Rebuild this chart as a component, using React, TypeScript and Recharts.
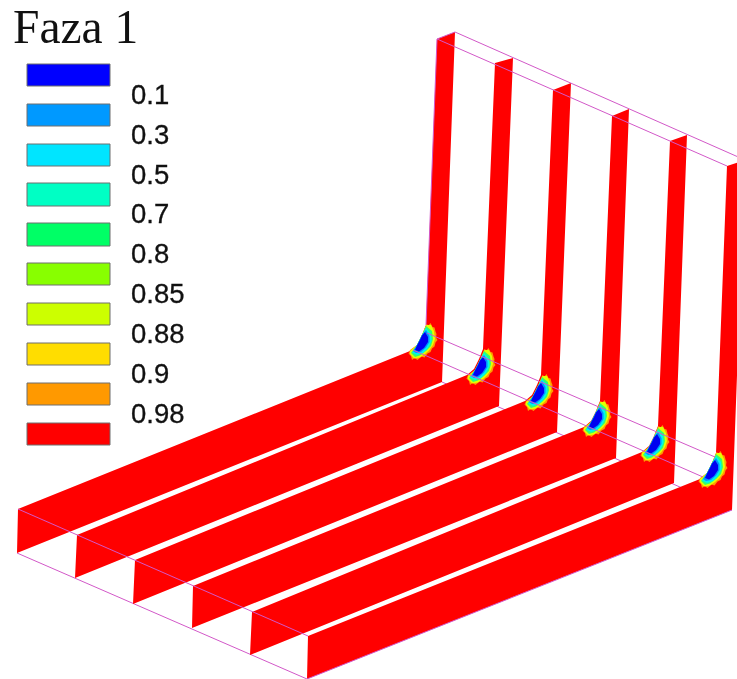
import React from 'react';
import { ScatterChart, Scatter, XAxis, YAxis } from 'recharts';

type Pt = [number, number];

// legend
const legendColors = ['#0000ff', '#0099ff', '#00e5ff', '#00ffc4', '#00ff66', '#88ff00', '#ccff00', '#ffdd00', '#ff9900', '#ff0000'];
const legendTops = [64, 104, 144, 183, 223, 263, 303, 343, 383, 423];
const legendBottoms = [86, 126, 166, 206, 246, 285, 325, 365, 405, 445];
const legendLabels = ['0.1', '0.3', '0.5', '0.7', '0.8', '0.85', '0.88', '0.9', '0.98'];
const labelBaselines = [104, 144, 184, 223, 263, 303, 343, 383, 423];

// corners of the six plates
const frontTop: Pt[] = [[18, 509], [77, 535], [135, 560], [193, 586], [252, 612], [308, 636]];
const frontBottom: Pt[] = [[17, 553], [75, 578], [133, 604], [192, 628], [250, 655], [307, 679]];
const bend: Pt[] = [[442, 382], [499, 406], [557, 432], [616, 458], [674, 483], [732, 510]];
const topFront: Pt[] = [[437, 39], [495, 63], [553, 90], [612, 116], [670, 141], [727, 166]];
const topBack: Pt[] = [[455, 32], [513, 58], [571, 83], [629, 109], [687, 135], [745, 160]];
const fillets: Pt[][] = [
  [[410, 351], [417, 345], [422, 335], [426, 325]],
  [[467, 375], [474, 369], [479, 359], [483, 349]],
  [[525, 401], [532, 395], [537, 385], [541, 375]],
  [[584, 427], [591, 421], [596, 411], [600, 401]],
  [[642, 452], [649, 446], [654, 436], [658, 426]],
  [[700, 479], [707, 473], [712, 463], [716, 453]],
];

// phase contour rings around the weld corner, outermost first
const blobAnchors: Pt[] = [[417, 345], [475, 370], [533, 396], [591, 422], [649, 447], [707, 473]];
const ringColors = ['#ff9a00', '#e4ff00', '#30ff70', '#00f4f0', '#0090ff', '#0000f0'];
const rings: Pt[][] = [
  [[9.5, -21], [11.5, -19.5], [13.5, -22], [15.5, -18], [17.5, -17.5], [18.5, -13.5], [19.5, -11], [19, -7.5], [20.5, -5], [18.5, -2.5], [17.5, 1.5], [15, 3.5], [13.5, 7], [10.5, 8.5], [7.5, 12.5], [4.5, 11.5], [0.5, 15], [-2.5, 13], [-5, 15], [-6, 11], [-8.5, 8.5], [-7, 5], [0, 0], [5, -10], [9, -20]],
  [[9.5, -20], [14, -20], [17, -14], [18, -6], [16, 0], [12, 5.5], [8, 9], [3, 12.5], [-3, 13.5], [-7, 9], [-7, 6], [0, 0], [5, -10]],
  [[9, -19], [15, -14], [16, -6], [14, 1], [9, 6], [3, 10.5], [-2, 12], [-6, 8], [0, 0], [5, -10]],
  [[9, -17], [14, -11], [14.5, -4], [11, 3], [6, 8], [0, 10], [-5, 7.5], [0, 0], [5, -10]],
  [[9, -15], [12.5, -9], [12.5, -3], [9, 2.5], [4, 7], [-1, 8], [-4, 6], [0, 0], [5, -10]],
  [[8, -13], [11, -8], [11, -3], [7, 3], [2, 6.5], [-2, 5], [0, 0.5], [3, -5], [5, -9.5]],
];

// mesh lines
const cornerUpper: Pt[] = [[427, 333], [715, 457]];
const cornerLower: Pt[] = [[413, 350], [703, 477]];

const RED = '#ff0000';
const MESH = '#d258c8';
const W = 737;
const H = 679;

const toData = (pts: Pt[]) => pts.map(([x, y]) => ({ x, y }));
const noDot = () => <g />;

// closed filled shape out of the scaled points of a series
const fillShape = (fill: string, stroke = 'none') => (props: any) => (
  <polygon
    points={props.points.map((p: any) => `${p.x},${p.y}`).join(' ')}
    fill={fill}
    stroke={stroke}
    strokeWidth={stroke === 'none' ? 0 : 1}
  />
);

const textDot = (fontFamily: string, fontSize: number, weight: number) => (props: any) => (
  <text
    x={props.cx}
    y={props.cy}
    fontFamily={fontFamily}
    fontSize={fontSize}
    fill="#111"
    stroke="#111"
    strokeWidth={weight}
  >
    {props.payload.label}
  </text>
);

const Poly = (key: string, pts: Pt[], fill: string, stroke?: string) => (
  <Scatter
    key={key}
    data={toData(pts)}
    line={fillShape(fill, stroke)}
    shape={noDot}
    isAnimationActive={false}
  />
);

const Mesh = (key: string, pts: Pt[]) => (
  <Scatter
    key={key}
    data={toData(pts)}
    line={{ stroke: MESH, strokeWidth: 1 }}
    shape={noDot}
    isAnimationActive={false}
  />
);

const platePoints = (i: number): Pt[] => [
  frontTop[i],
  ...fillets[i],
  topFront[i],
  topBack[i],
  bend[i],
  frontBottom[i],
];

const labelData = legendLabels.map((label, i) => ({ x: 131, y: labelBaselines[i], label }));
const titleData = [{ x: 13, y: 43, label: 'Faza 1' }];

export default function App() {
  return (
    <div style={{ position: 'absolute', left: 0, top: 0, width: W, height: H, background: '#fff', filter: 'blur(0.4px)' }}>
      <ScatterChart width={W} height={H} margin={{ top: 0, right: 0, bottom: 0, left: 0 }}>
        <XAxis type="number" dataKey="x" domain={[0, W]} allowDataOverflow hide />
        <YAxis type="number" dataKey="y" domain={[0, H]} reversed allowDataOverflow hide />

        {/* lines under the plates */}
        {Mesh('bendLine', [bend[0], bend[5]])}
        {Mesh('backLine', [frontBottom[0], frontBottom[5]])}

        {/* plates */}
        {frontTop.map((_, i) => Poly(`plate-${i}`, platePoints(i), RED))}

        {/* contour rings */}
        {blobAnchors.map(([ax, ay], b) =>
          rings.map((ring, r) =>
            Poly(`ring-${b}-${r}`, ring.map(([dx, dy]): Pt => [ax + dx, ay + dy]), ringColors[r]),
          ),
        )}

        {/* mesh outline */}
        {Mesh('frontTopLine', [frontTop[0], frontTop[5]])}
        {Mesh('topFrontLine', [topFront[0], topFront[5]])}
        {Mesh('topBackLine', [topBack[0], topBack[5]])}
        {Mesh('cornerUpper', cornerUpper)}
        {Mesh('cornerLower', cornerLower)}
        {Mesh('outerEdge', [frontBottom[5], bend[5]])}
        {Mesh('riserEdge', [fillets[0][3], topFront[0], topBack[0]])}

        {/* legend */}
        {legendColors.map((c, i) =>
          Poly(`swatch-${i}`, [[27, legendTops[i]], [110, legendTops[i]], [110, legendBottoms[i]], [27, legendBottoms[i]]], c, '#6f6f6f'),
        )}
        <Scatter data={labelData} shape={textDot('"Liberation Sans", Arial, sans-serif', 27.5, 0.3)} isAnimationActive={false} />
        <Scatter data={titleData} shape={textDot('"Liberation Serif", "Times New Roman", serif', 47.5, 0)} isAnimationActive={false} />
      </ScatterChart>
    </div>
  );
}
